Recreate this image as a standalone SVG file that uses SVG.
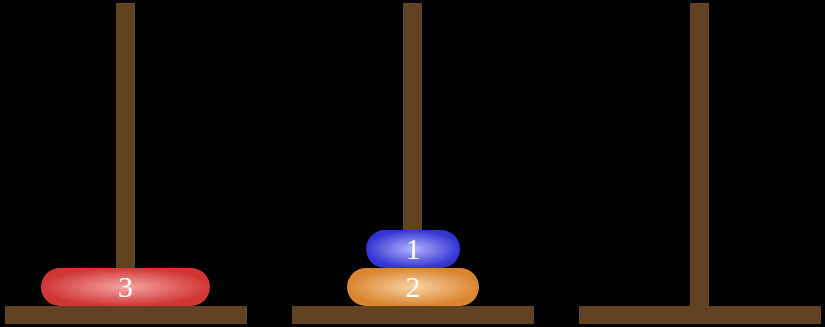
<svg xmlns="http://www.w3.org/2000/svg" width="825" height="327" viewBox="0 0 825 327">
<defs>
<radialGradient id="gRed" cx="50%" cy="50%" r="50%" gradientTransform="translate(0.5 0.5) scale(1 1) translate(-0.5 -0.5)">
<stop offset="0" stop-color="#f6a3a3"/>
<stop offset="1" stop-color="#d13636"/>
</radialGradient>
<radialGradient id="gOrange" cx="50%" cy="50%" r="50%">
<stop offset="0" stop-color="#f8d3a6"/>
<stop offset="1" stop-color="#da8530"/>
</radialGradient>
<radialGradient id="gBlue" cx="50%" cy="50%" r="50%">
<stop offset="0" stop-color="#b3b3ff"/>
<stop offset="1" stop-color="#3434d2"/>
</radialGradient>
</defs>
<style>
.wood{fill:#614223}
.lbl{font-family:"Liberation Serif","Times New Roman",serif;font-size:30px;fill:#ffffff;text-anchor:middle}
</style>
<rect width="825" height="327" fill="#000000"/>
<g id="peg1">
<rect class="wood" x="116" y="3" width="19" height="303"/>
<rect class="wood" x="5" y="306" width="242" height="18"/>
</g>
<g id="peg2">
<rect class="wood" x="403" y="3" width="19" height="303"/>
<rect class="wood" x="292" y="306" width="242" height="18"/>
</g>
<g id="peg3">
<rect class="wood" x="690" y="3" width="19" height="303"/>
<rect class="wood" x="579" y="306" width="242" height="18"/>
</g>
<g id="connectors"></g>
<g id="disk3">
<rect x="41" y="268" width="169" height="38" rx="19" fill="url(#gRed)"/>
<text class="lbl" x="125.5" y="297">3</text>
</g>
<g id="disk2">
<rect x="347" y="268" width="132" height="38" rx="19" fill="url(#gOrange)"/>
<text class="lbl" x="413" y="297">2</text>
</g>
<g id="disk1">
<rect x="366" y="230" width="94" height="38" rx="19" fill="url(#gBlue)"/>
<text class="lbl" x="413" y="259">1</text>
</g>
</svg>
